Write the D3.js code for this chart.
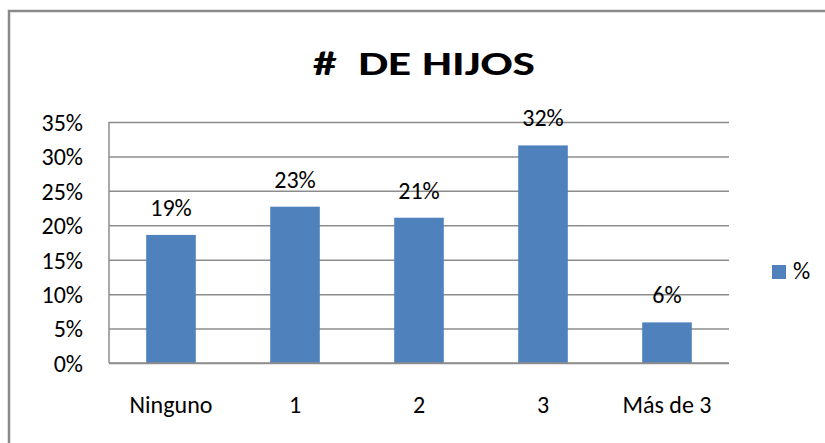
<!DOCTYPE html>
<html>
<head>
<meta charset="utf-8">
<script src="https://cdn.jsdelivr.net/npm/d3@7"></script>
<style>
  body { margin: 0; background: #fff; }
  svg { display: block; font-family: Calibri, Carlito, Lato, sans-serif; }
</style>
</head>
<body>
<div id="chart"></div>
<script>
// categories and values
const categories = ["Ninguno", "1", "2", "3", "Más de 3"];
const values = [0.186, 0.227, 0.211, 0.316, 0.059];
const yTicks = [0, 0.05, 0.10, 0.15, 0.20, 0.25, 0.30, 0.35];
const seriesName = "%";
const title = "#  DE HIJOS";

const width = 825;
const height = 443;
const plot = { left: 109, right: 729, top: 122, bottom: 363 };
const labelSize = "24px";

const svg = d3.select("#chart")
  .append("svg")
  .attr("width", width)
  .attr("height", height);

// outer chart frame (right and bottom edges fall outside the picture)
svg.append("rect")
  .attr("x", 9)
  .attr("y", 11)
  .attr("width", width + 20)
  .attr("height", height + 20)
  .attr("fill", "#fff")
  .attr("stroke", "#8a8a8a")
  .attr("stroke-width", 2.5);

// title
svg.append("text")
  .attr("x", 424)
  .attr("y", 75)
  .attr("text-anchor", "middle")
  .attr("font-weight", "bold")
  .attr("font-size", "35px")
  .attr("textLength", 222)
  .attr("lengthAdjust", "spacingAndGlyphs")
  .style("white-space", "pre")
  .attr("fill", "#000")
  .text(title);

const x = d3.scaleBand()
  .domain(categories)
  .range([plot.left, plot.right])
  .paddingInner(0.6)
  .paddingOuter(0.3);

const y = d3.scaleLinear()
  .domain([0, 0.35])
  .range([plot.bottom, plot.top]);

// gridlines + y labels
const yAxis = svg.append("g")
  .attr("transform", `translate(${plot.left},0)`)
  .call(d3.axisLeft(y)
    .tickValues(yTicks)
    .tickFormat(d3.format(".0%"))
    .tickSize(-(plot.right - plot.left))
    .tickPadding(26));
yAxis.select(".domain").remove();
yAxis.selectAll(".tick line").attr("stroke", "#8c8c8c").attr("stroke-width", 1.5);
yAxis.selectAll(".tick text")
  .attr("font-size", labelSize)
  .attr("font-family", "Calibri, Carlito, Lato, sans-serif")
  .attr("fill", "#000")
  .attr("dy", "0.35em");

// vertical axis line
svg.append("line")
  .attr("x1", plot.left).attr("x2", plot.left)
  .attr("y1", plot.top).attr("y2", plot.bottom)
  .attr("stroke", "#8c8c8c")
  .attr("stroke-width", 1.5);

// bars
svg.append("g")
  .selectAll("rect")
  .data(values)
  .join("rect")
  .attr("x", (d, i) => x(categories[i]))
  .attr("y", d => y(d))
  .attr("width", x.bandwidth())
  .attr("height", d => y(0) - y(d))
  .attr("fill", "#4f81bd");

// bottom axis line
svg.append("line")
  .attr("x1", plot.left).attr("x2", plot.right)
  .attr("y1", plot.bottom).attr("y2", plot.bottom)
  .attr("stroke", "#8c8c8c")
  .attr("stroke-width", 1.5);

// value labels
svg.append("g")
  .selectAll("text")
  .data(values)
  .join("text")
  .attr("x", (d, i) => x(categories[i]) + x.bandwidth() / 2)
  .attr("y", d => y(d) - 19)
  .attr("text-anchor", "middle")
  .attr("font-size", labelSize)
  .attr("fill", "#000")
  .text(d => d3.format(".0%")(d));

// category labels
svg.append("g")
  .selectAll("text")
  .data(categories)
  .join("text")
  .attr("x", d => x(d) + x.bandwidth() / 2)
  .attr("y", 413)
  .attr("text-anchor", "middle")
  .attr("font-size", labelSize)
  .attr("fill", "#000")
  .text(d => d);

// legend
const legend = svg.append("g").attr("transform", "translate(772,265)");
legend.append("rect")
  .attr("width", 14)
  .attr("height", 14)
  .attr("fill", "#4f81bd");
legend.append("text")
  .attr("x", 21)
  .attr("y", 14)
  .attr("font-size", labelSize)
  .attr("fill", "#000")
  .text(seriesName);
</script>
</body>
</html>
